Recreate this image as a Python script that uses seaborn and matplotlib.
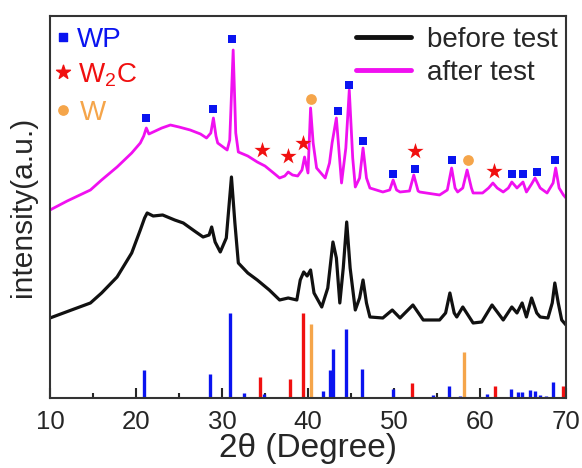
import matplotlib
matplotlib.use('Agg')
import matplotlib.pyplot as plt
from matplotlib.ticker import MultipleLocator
import numpy as np
import pandas as pd
import seaborn as sns

# XRD patterns (intensity in arbitrary units)
before_x = [10, 12.5, 14.7, 16, 17.8, 19.5, 20.5, 21.0, 21.3, 22, 23.1, 24.5, 25.5, 26.8, 27.8, 28.5,
            28.8, 29.2, 29.8, 30.5, 31.1, 31.5, 31.9, 33, 34.1, 35.5, 36.7, 37.7, 38.7, 39.1, 39.5,
            39.9, 40.3, 40.7, 41.6, 42.3, 42.9, 43.3, 43.7, 44.1, 44.5, 44.9, 45.5, 46.0, 46.4, 46.8,
            47.2, 48.7, 49.8, 50.7, 52.2, 53.4, 55.3, 56.0, 56.5, 57.0, 57.3, 58.0, 59.2, 60.2, 61.4,
            62.7, 63.7, 64.3, 64.9, 65.4, 66.0, 66.6, 67.0, 67.9, 68.4, 68.7, 69.1, 69.5, 70]
before_y = [80, 88, 95, 105, 121, 145, 168, 180, 185, 182, 183, 178, 175, 167, 161, 163,
            171, 156, 146, 160, 221, 175, 135, 125, 118, 108, 98, 100, 98, 118, 126,
            122, 128, 105, 91, 110, 156, 140, 95, 130, 176, 130, 88, 100, 118, 95,
            81, 80, 88, 80, 93, 78, 78, 85, 105, 85, 81, 91, 75, 76, 93,
            78, 91, 85, 95, 81, 100, 85, 81, 80, 95, 115, 95, 78, 73]

after_x = [10, 12, 14.7, 16, 17.8, 19.5, 20.5, 20.9, 21.2, 21.5, 22, 23, 24, 25, 26.3, 27.5, 28.2,
           28.7, 29.0, 29.3, 29.5, 30.6, 30.9, 31.3, 31.6, 31.9, 33, 34.1, 35, 36, 36.7, 37.3, 37.7,
           38.2, 38.8, 39.3, 39.6, 40.0, 40.3, 40.6, 41.0, 42.0, 42.5, 42.8, 43.3, 43.9, 44.4, 44.8,
           45.2, 45.5, 46.0, 46.4, 46.8, 47.2, 48.7, 49.5, 49.9, 50.3, 50.7, 51.8, 52.3, 52.8, 53,
           55.3, 56.2, 56.7, 57.1, 57.4, 58.0, 58.5, 59.0, 59.2, 60.3, 61.0, 61.5, 62.0, 62.7, 63.3,
           63.7, 64.3, 65.0, 65.4, 66.0, 66.4, 67.0, 67.8, 68.5, 68.8, 69.2, 69.7, 70]
after_y = [188, 197, 208, 218, 231, 245, 255, 262, 270, 264, 266, 270, 273, 271, 268, 264, 260,
           265, 280, 262, 255, 248, 258, 348, 265, 246, 242, 236, 232, 225, 220, 222, 226,
           223, 222, 228, 241, 225, 290, 255, 230, 220, 235, 255, 280, 215, 250, 308,
           240, 211, 220, 250, 220, 210, 206, 208, 218, 208, 206, 207, 223, 207, 206,
           203, 208, 230, 210, 206, 210, 228, 210, 205, 205, 210, 215, 210, 206, 210,
           216, 210, 216, 206, 214, 220, 210, 205, 215, 230, 210, 203, 200]

# reference patterns (sticks)
wp_pos = [20.9, 28.6, 30.9, 32.6, 34.9, 41.7, 42.6, 42.9, 44.4, 46.3, 49.9, 54.5, 56.4, 57.7,
          60.8, 63.6, 64.4, 64.9, 65.8, 66.4, 67.0, 67.7, 68.5]
wp_h = [28, 24, 85, 5, 4, 7, 28, 49, 69, 29, 9, 3, 12, 2, 4, 9, 6, 6, 8, 7, 3, 2, 16]
w2c_pos = [34.4, 37.9, 39.4, 52.1, 61.7, 69.6]
w2c_h = [21, 19, 85, 15, 12, 12]
w_pos = [40.3, 58.1]
w_h = [74, 46]

# phase markers on the "after test" pattern
wp_mark_x = [21.2, 28.9, 31.2, 43.5, 44.8, 46.4, 49.9, 52.4, 56.8, 63.7, 65.0, 66.6, 68.7]
wp_mark_y = [280, 289, 359, 287, 313, 257, 224, 229, 238, 224, 224, 226, 238]
w2c_mark_x = [34.6, 37.7, 39.4, 52.4, 61.6]
w2c_mark_y = [248, 242, 255, 247, 227]
w_mark_x = [40.3, 58.6]
w_mark_y = [299, 238]

blue = '#0a14f0'
red = '#f01010'
orange = '#f5a54a'
magenta = '#f010f0'
text_col = '#262626'

sns.set_style('ticks')
plt.rcParams['font.family'] = ['Liberation Sans', 'DejaVu Sans']
plt.rcParams['mathtext.fontset'] = 'custom'
plt.rcParams['mathtext.rm'] = 'Liberation Sans'

fig = plt.figure(figsize=(5.82, 4.68), dpi=100)
ax = fig.add_axes([0.0859, 0.1496, 0.8866, 0.8162])

sns.lineplot(x=before_x, y=before_y, color='#111111', lw=2.3, estimator=None, ax=ax, label='before test')
sns.lineplot(x=after_x, y=after_y, color=magenta, lw=2, estimator=None, ax=ax, label='after test')

ax.vlines(wp_pos, 0, wp_h, color=blue, lw=2.4)
ax.vlines(w2c_pos, 0, w2c_h, color=red, lw=2.4)
ax.vlines(w_pos, 0, w_h, color=orange, lw=2.4)

sns.scatterplot(x=wp_mark_x, y=wp_mark_y, marker='s', s=40, color=blue, linewidth=0, ax=ax, zorder=5)
sns.scatterplot(x=w2c_mark_x, y=w2c_mark_y, marker='*', s=150, color=red, linewidth=0, ax=ax, zorder=5)
sns.scatterplot(x=w_mark_x, y=w_mark_y, marker='o', s=60, color=orange, linewidth=0, ax=ax, zorder=5)

# phase key at upper left
ax.scatter([0.025], [0.945], marker='s', s=30, color=blue, transform=ax.transAxes, clip_on=False)
ax.scatter([0.025], [0.853], marker='*', s=110, color=red, transform=ax.transAxes, clip_on=False)
ax.scatter([0.025], [0.754], marker='o', s=45, color=orange, transform=ax.transAxes, clip_on=False)
ax.text(0.053, 0.919, 'WP', color=blue, fontsize=20, va='baseline', transform=ax.transAxes)
ax.text(0.055, 0.827, r'W$_\mathregular{2}$C', color=red, fontsize=20, va='baseline', transform=ax.transAxes)
ax.text(0.058, 0.728, 'W', color=orange, fontsize=20, va='baseline', transform=ax.transAxes)

leg = ax.legend(loc='upper right', bbox_to_anchor=(1.005, 1.0), frameon=False, fontsize=20,
                handlelength=2.0, handletextpad=0.55, labelspacing=0.25, borderaxespad=0)
for line in leg.get_lines():
    line.set_linewidth(3.5)
for t in leg.get_texts():
    t.set_color(text_col)

ax.set_xlim(10, 70)
ax.set_ylim(0, 382)
ax.set_yticks([])
ax.set_xticks(range(10, 71, 10))
ax.xaxis.set_minor_locator(MultipleLocator(5))
ax.tick_params(axis='x', which='major', direction='in', length=7, width=1.5, labelsize=18.5,
               colors=text_col, pad=9)
ax.tick_params(axis='x', which='minor', direction='in', length=3.5, width=1.5)
for sp in ax.spines.values():
    sp.set_visible(True)
    sp.set_linewidth(1.5)
    sp.set_color('#333333')

ax.set_xlabel('2θ (Degree)', fontsize=24, color=text_col, labelpad=-1)
ax.set_ylabel('intensity(a.u.)', fontsize=21.5, color=text_col, labelpad=9)

fig.savefig('out.png', dpi=100)
